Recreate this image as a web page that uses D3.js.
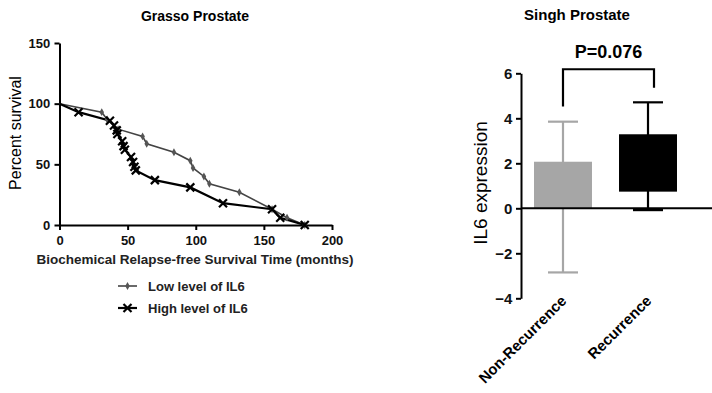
<!DOCTYPE html>
<html>
<head>
<meta charset="utf-8">
<script src="https://cdn.jsdelivr.net/npm/d3@7"></script>
<style>
  body { margin: 0; background: #fff; }
  svg { font-family: "Liberation Sans", Arial, sans-serif; }
  .axis path, .axis line { stroke: #000; stroke-width: 2; }
  .axis text { font-weight: bold; fill: #111; }
</style>
</head>
<body>
<div id="chart"></div>
<script>
// survival curves, [months, percent]
const lowIL6 = [[0,100],[31,93],[35,87],[43,79],[61,73],[64,67],[84,60],[96,53],[98,47],[106,40],[110,34],[132,27],[156,13],[167,6],[180,0]];
const highIL6 = [[0,100],[14,93],[37,86],[40,82],[42,78],[42.5,75],[46,69],[47,65],[48,62],[52.5,56],[54,52],[55,48],[56,45],[70,37],[96,31],[120,18],[156,13],[162,6],[180,0]];
const survTicksX = [0, 50, 100, 150, 200];
const survTicksY = [0, 50, 100, 150];

// bar chart
const groups = ["Non-Recurrence", "Recurrence"];
const barBase = [0, 0.74];
const barTop = [2.07, 3.29];
const errLow = [-2.85, -0.08];
const errHigh = [3.85, 4.71];
const exprTicks = [-4, -2, 0, 2, 4, 6];
const pLabel = "P=0.076";
const bracket = { top: 6.18, left: 4.52, right: 5.36, text: 6.67 };

const svg = d3.select("#chart").append("svg").attr("width", 712).attr("height", 393);

// ---------- left: Grasso Prostate ----------
const x = d3.scaleLinear().domain([0, 200]).range([59.5, 332]);
const y = d3.scaleLinear().domain([0, 150]).range([225, 43]);

svg.append("text").attr("x", 195).attr("y", 21).attr("text-anchor", "middle")
  .style("font-size", "14px").style("font-weight", "bold").text("Grasso Prostate");

svg.append("g").attr("class", "axis").attr("transform", "translate(0,225)")
  .call(d3.axisBottom(x).tickValues(survTicksX).tickSize(5).tickSizeOuter(0))
  .call(g => g.selectAll("text").style("font-size", "13px").attr("dy", "0.9em"));
svg.append("g").attr("class", "axis").attr("transform", "translate(59.5,0)")
  .call(d3.axisLeft(y).tickValues(survTicksY).tickSize(5).tickSizeOuter(0))
  .call(g => g.selectAll("text").style("font-size", "13px").attr("dx", "-0.1em"));

svg.append("text").attr("transform", "translate(21,133) rotate(-90)").attr("text-anchor", "middle")
  .style("font-size", "16px").text("Percent survival");
svg.append("text").attr("x", 195).attr("y", 264).attr("text-anchor", "middle")
  .style("font-size", "13.5px").style("font-weight", "bold").style("fill", "#222")
  .text("Biochemical Relapse-free Survival Time (months)");

const line = d3.line().x(d => x(d[0])).y(d => y(d[1]));
svg.append("path").datum(lowIL6).attr("d", line).attr("fill", "none")
  .attr("stroke", "#444").attr("stroke-width", 1.6);
svg.append("path").datum(highIL6).attr("d", line).attr("fill", "none")
  .attr("stroke", "#000").attr("stroke-width", 2.2);

const diamond = d3.symbol().type(d3.symbolDiamond).size(18);
function drawX(g, cx, cy) {
  g.append("path").attr("d", `M${cx-4},${cy-4}L${cx+4},${cy+4}M${cx-4},${cy+4}L${cx+4},${cy-4}`)
    .attr("stroke", "#000").attr("stroke-width", 2.2);
}
svg.append("g").selectAll("path").data(lowIL6.slice(1)).join("path")
  .attr("d", diamond).attr("transform", d => `translate(${x(d[0])},${y(d[1])})`)
  .attr("fill", "#555");
const xMarks = svg.append("g");
highIL6.slice(1).forEach(d => drawX(xMarks, x(d[0]), y(d[1])));

// legend
const leg = svg.append("g");
[["Low level of IL6", 286], ["High level of IL6", 308]].forEach(([label, ly], i) => {
  leg.append("line").attr("x1", 118).attr("x2", 137).attr("y1", ly).attr("y2", ly)
    .attr("stroke", i ? "#000" : "#444").attr("stroke-width", i ? 2.2 : 1.6);
  if (i) drawX(leg, 127.5, ly);
  else leg.append("path").attr("d", diamond).attr("transform", `translate(127.5,${ly})`).attr("fill", "#555");
  leg.append("text").attr("x", 148).attr("y", ly + 4.5).style("font-size", "13px")
    .style("font-weight", "bold").style("fill", "#222").text(label);
});

// ---------- right: Singh Prostate ----------
const xb = d3.scaleBand().domain(groups).range([521, 690]).paddingInner(0.318).paddingOuter(0.153);
const yb = d3.scaleLinear().domain([-4, 6]).range([298.3, 73.3]);
const bw = xb.bandwidth();
const colors = ["#a6a6a6", "#000"];

svg.append("text").attr("x", 577).attr("y", 20).attr("text-anchor", "middle")
  .style("font-size", "15px").style("font-weight", "bold").text("Singh Prostate");

svg.append("g").selectAll("rect").data(groups).join("rect")
  .attr("x", d => xb(d)).attr("width", bw)
  .attr("y", (d, i) => yb(barTop[i])).attr("height", (d, i) => yb(barBase[i]) - yb(barTop[i]))
  .attr("fill", (d, i) => colors[i]);

const eb = svg.append("g");
groups.forEach((d, i) => {
  const cx = xb(d) + bw / 2;
  eb.append("line").attr("x1", cx).attr("x2", cx).attr("y1", yb(errLow[i])).attr("y2", yb(errHigh[i]))
    .attr("stroke", colors[i]).attr("stroke-width", 2.2);
  [errLow[i], errHigh[i]].forEach(v => eb.append("line").attr("x1", cx - 15).attr("x2", cx + 15)
    .attr("y1", yb(v)).attr("y2", yb(v)).attr("stroke", colors[i]).attr("stroke-width", 2.2));
});

svg.append("g").attr("class", "axis").attr("transform", "translate(521,0)")
  .call(d3.axisLeft(yb).tickValues(exprTicks).tickSize(5).tickSizeOuter(0))
  .call(g => g.selectAll("text").style("font-size", "15px").attr("dx", "-0.05em"));
svg.append("line").attr("x1", 521).attr("x2", 712).attr("y1", yb(0)).attr("y2", yb(0))
  .attr("stroke", "#000").attr("stroke-width", 2);

svg.append("text").attr("transform", "translate(487,183) rotate(-90)").attr("text-anchor", "middle")
  .style("font-size", "19px").text("IL6 expression");

svg.append("g").selectAll("text").data(groups).join("text")
  .attr("transform", d => `translate(${xb(d) + bw / 2 - 3},${yb(-4) - 4}) rotate(-45)`)
  .attr("text-anchor", "end").attr("dy", "0.7em")
  .style("font-size", "15px").style("font-weight", "bold").text(d => d);

const bl = xb(groups[0]) + bw / 2, br = xb(groups[1]) + bw / 2 + 6;
svg.append("path")
  .attr("d", `M${bl},${yb(bracket.left)}V${yb(bracket.top)}H${br}V${yb(bracket.right)}`)
  .attr("fill", "none").attr("stroke", "#000").attr("stroke-width", 2.2);
svg.append("text").attr("x", (bl + br) / 2).attr("y", yb(bracket.text)).attr("text-anchor", "middle")
  .style("font-size", "18px").style("font-weight", "bold").text(pLabel);
</script>
</body>
</html>
